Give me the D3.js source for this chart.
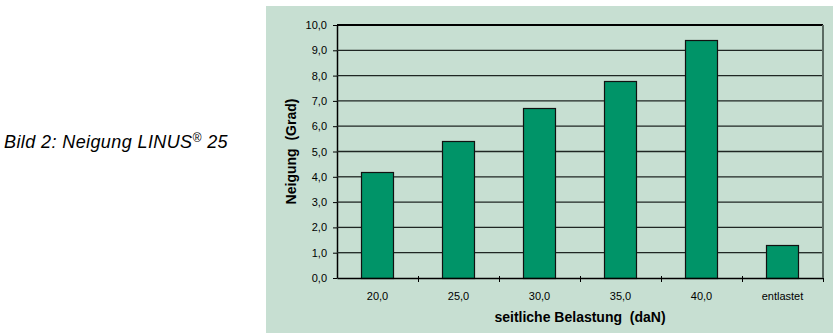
<!DOCTYPE html>
<html>
<head>
<meta charset="utf-8">
<script src="https://cdn.jsdelivr.net/npm/d3@7"></script>
<style>
  html, body { margin: 0; padding: 0; background: #ffffff; }
  svg { display: block; }
  text { font-family: Arial, "Liberation Sans", Helvetica, sans-serif; fill: #000; white-space: pre; }
</style>
</head>
<body>
<svg id="chart" width="833" height="333"></svg>
<script>
// Neigung in Grad je seitlicher Belastung
const categories = ["20,0", "25,0", "30,0", "35,0", "40,0", "entlastet"];
const values = [4.2, 5.4, 6.7, 7.8, 9.4, 1.3];
const yTicks = [0, 1, 2, 3, 4, 5, 6, 7, 8, 9, 10];

const caption = "Bild 2: Neigung LINUS";
const xTitle = "seitliche Belastung  (daN)";
const yTitle = "Neigung  (Grad)";

const svg = d3.select("#chart");
const fmt = v => d3.format(".1f")(v).replace(".", ",");

// chart panel
svg.append("rect")
  .attr("x", 266).attr("y", 6)
  .attr("width", 833 - 266).attr("height", 333 - 6)
  .attr("fill", "#c7dfd2");

const area = { left: 337, right: 823, top: 25, bottom: 278 };

const x = d3.scaleBand()
  .domain(categories)
  .range([area.left, area.right])
  .paddingInner(0.6)
  .paddingOuter(0.3);

const y = d3.scaleLinear()
  .domain([0, 10])
  .range([area.bottom, area.top]);

// bars
svg.append("g")
  .selectAll("rect")
  .data(values)
  .join("rect")
  .attr("x", (d, i) => Math.round(x(categories[i])) + 0.5)
  .attr("y", d => Math.round(y(d)) + 0.5)
  .attr("width", Math.round(x.bandwidth()))
  .attr("height", d => Math.round(y(0)) - Math.round(y(d)))
  .attr("fill", "#009468")
  .attr("stroke", "#111111")
  .attr("stroke-width", 1.2);

// y axis
const gy = svg.append("g")
  .attr("transform", `translate(${area.left},0)`)
  .call(d3.axisLeft(y)
    .tickValues(yTicks)
    .tickFormat(fmt)
    .tickSize(4)
    .tickSizeOuter(0)
    .tickPadding(6));
gy.select(".domain").attr("stroke", "#000").attr("stroke-width", 1.5);
gy.selectAll(".tick line").attr("stroke", "#000");
gy.selectAll(".tick text")
  .style("font-size", "11px")
  .attr("fill", "#000");

// x axis: line and ticks at category boundaries
const xb = d3.scaleLinear()
  .domain([0, categories.length])
  .range([area.left, area.right]);

const gxTicks = svg.append("g")
  .attr("transform", `translate(0,${area.bottom})`)
  .call(d3.axisBottom(xb)
    .tickValues(d3.range(1, categories.length + 1))
    .tickFormat("")
    .tickSize(4)
    .tickSizeOuter(0));
gxTicks.select(".domain").attr("stroke", "#000").attr("stroke-width", 1.5);
gxTicks.selectAll(".tick line")
  .attr("y1", -2)
  .attr("stroke", "#000");

// category labels
svg.append("g")
  .selectAll("text")
  .data(categories)
  .join("text")
  .attr("x", d => x(d) + x.bandwidth() / 2)
  .attr("y", 300)
  .attr("text-anchor", "middle")
  .style("font-size", "11px")
  .text(d => d);

// axis titles
svg.append("text")
  .attr("x", (area.left + area.right) / 2)
  .attr("y", 322)
  .attr("text-anchor", "middle")
  .style("font-size", "14px")
  .style("font-weight", "bold")
  .text(xTitle);

svg.append("text")
  .attr("transform", `translate(296,${(area.top + area.bottom) / 2}) rotate(-90)`)
  .attr("text-anchor", "middle")
  .style("font-size", "14px")
  .style("font-weight", "bold")
  .text(yTitle);

// figure caption
const cap = svg.append("text")
  .attr("x", 4)
  .attr("y", 148)
  .style("font-size", "18px")
  .style("font-style", "italic")
  .style("letter-spacing", "0.4px");
cap.append("tspan").text(caption);
cap.append("tspan").attr("dy", -6).style("font-size", "12px").text("®");
cap.append("tspan").attr("dy", 6).text(" 25");

// horizontal gridlines: segments between the bars that reach each level
const gridSegments = [];
yTicks.filter(t => t > 0).forEach(t => {
  let start = area.left;
  categories.forEach((c, i) => {
    if (values[i] >= t) {
      gridSegments.push({ t, x1: start, x2: Math.round(x(c)) });
      start = Math.round(x(c)) + Math.round(x.bandwidth()) + 1;
    }
  });
  gridSegments.push({ t, x1: start, x2: area.right });
});

svg.append("g")
  .attr("class", "grid")
  .selectAll("path")
  .data(gridSegments)
  .join("path")
  .attr("d", s => `M${s.x1},${y(s.t)}H${s.x2}`)
  .attr("fill", "none")
  .attr("stroke", s => s.t === 10 ? "#000000" : "#1f2623")
  .attr("stroke-width", s => s.t === 10 ? 2 : 1.3);

// right border of the plot area
svg.append("path")
  .attr("d", `M${area.right},${y(10)}V${y(0)}`)
  .attr("fill", "none")
  .attr("stroke", "#5b6b63")
  .attr("stroke-width", 2);
</script>
</body>
</html>
